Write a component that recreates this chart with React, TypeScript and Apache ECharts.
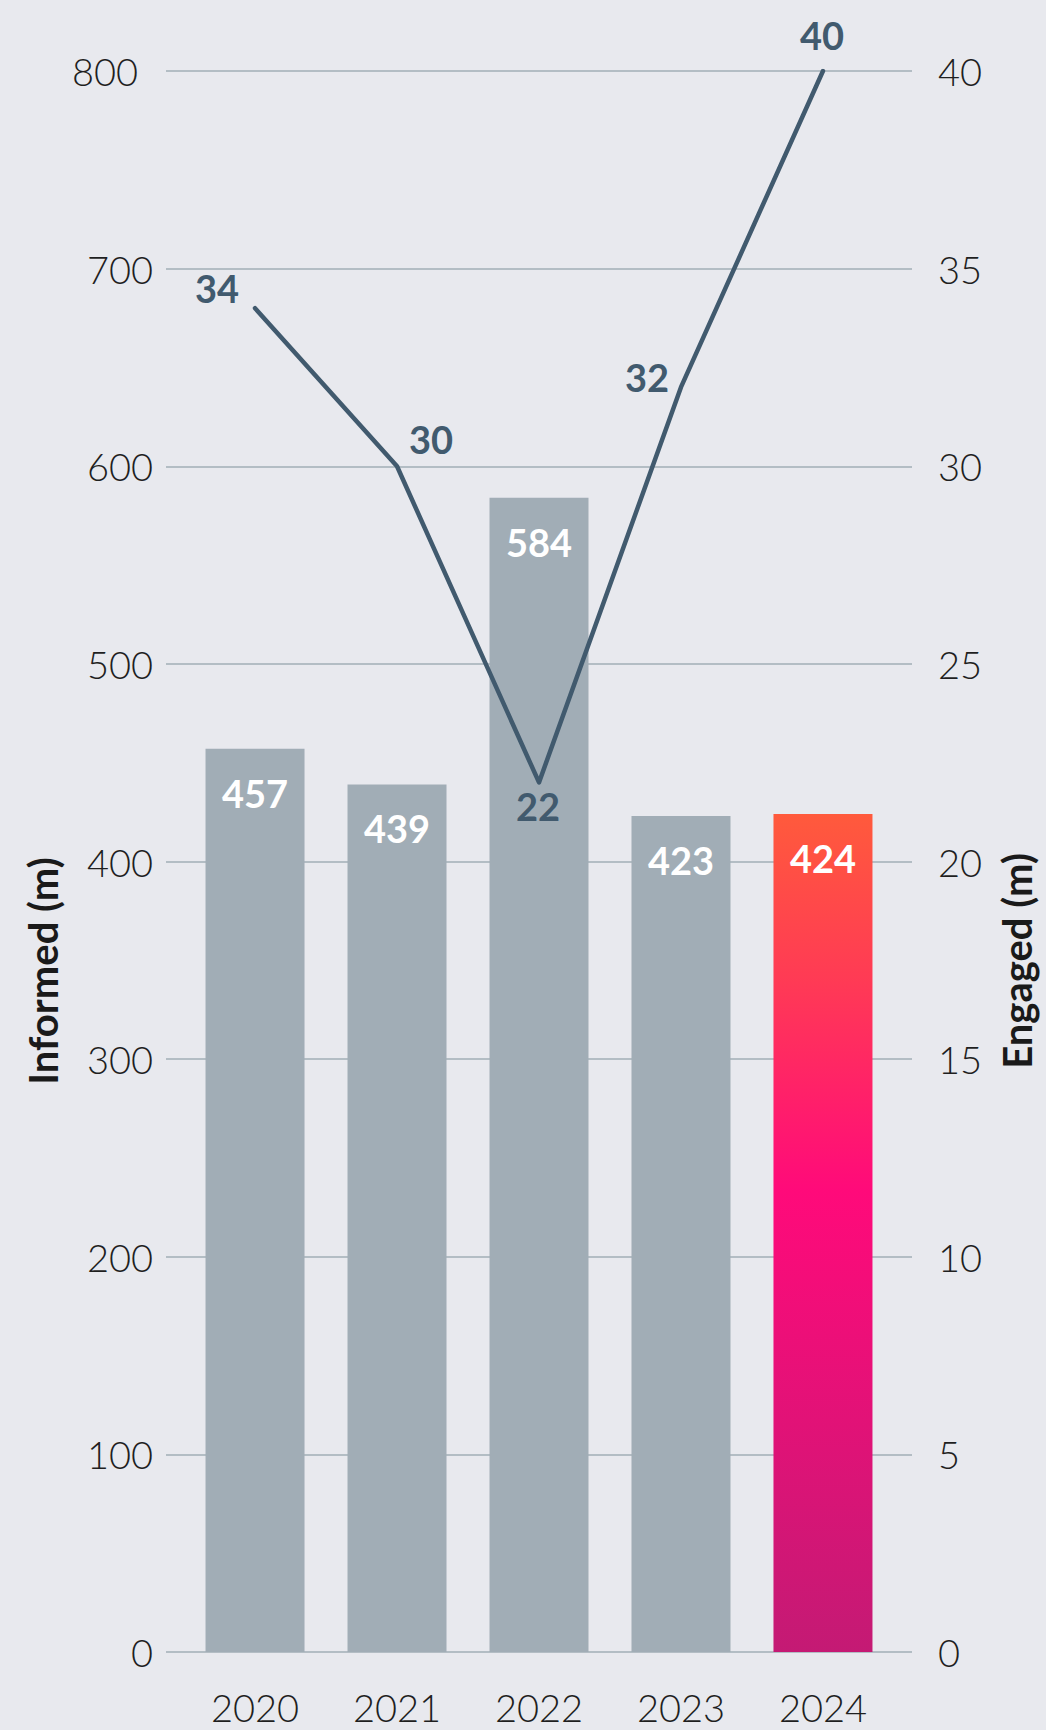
import React, { useEffect, useRef } from "react";
import * as echarts from "echarts";

const years = ["2020", "2021", "2022", "2023", "2024"];
const informed = [457, 439, 584, 423, 424];
const engaged = [34, 30, 22, 32, 40];
const leftTicks = { min: 0, max: 800, interval: 100 };
const rightTicks = { min: 0, max: 40, interval: 5 };

const lineLabelOffsets: [number, number][] = [
  [-38, -20],
  [34, -27],
  [-1, 24],
  [-34, -10],
  [-1, -36],
];

const FONT = "Lato, 'Open Sans', sans-serif";

export default function App() {
  const ref = useRef<HTMLDivElement>(null);
  useEffect(() => {
    document.body.style.margin = "0";
    const chart = echarts.init(ref.current!, null, { renderer: "svg" });
    const gradient = new echarts.graphic.LinearGradient(0, 0, 0, 1, [
      { offset: 0, color: "#ff5a3c" },
      { offset: 0.2, color: "#ff3a55" },
      { offset: 0.45, color: "#ff0a7a" },
      { offset: 1, color: "#c41a74" },
    ]);
    const barData = informed.map((v, i) => ({
      value: [i, v],
      itemStyle: { color: i === informed.length - 1 ? gradient : "#a1adb6" },
    }));
    const lineData = engaged.map((v, i) => ({
      value: [i, v],
      label: { offset: lineLabelOffsets[i] },
    }));
    const tickStyle = {
      fontSize: 38,
      fontWeight: 300,
      color: "#1f1f1f",
      fontFamily: FONT,
    };
    chart.setOption({
      animation: false,
      backgroundColor: "#e8e9ee",
      textStyle: { fontFamily: FONT },
      grid: { left: 166, right: 134, top: 71, bottom: 78, containLabel: false },
      xAxis: {
        type: "value",
        min: -0.627,
        max: 4.627,
        axisLine: { show: false },
        axisTick: { show: false },
        splitLine: { show: false },
        axisLabel: {
          customValues: years.map((_, i) => i),
          formatter: (v: number) => years[Math.round(v)] ?? "",
          ...tickStyle,
          margin: 36,
        },
      },
      yAxis: [
        {
          type: "value",
          ...leftTicks,
          axisLine: { show: false },
          axisTick: { show: false },
          splitLine: { show: true, lineStyle: { color: "#b3bdc4", width: 2 } },
          axisLabel: {
            ...tickStyle,
            margin: 13,
            formatter: (v: number) =>
              v === leftTicks.max ? `{top|${v}}` : String(v),
            rich: {
              top: { ...tickStyle, padding: [0, 15, 0, 0] },
            },
          },
        },
        {
          type: "value",
          ...rightTicks,
          position: "right",
          axisLine: { show: false },
          axisTick: { show: false },
          splitLine: { show: false },
          axisLabel: { ...tickStyle, margin: 26 },
        },
      ],
      graphic: [
        {
          type: "text",
          x: 43,
          y: 971,
          rotation: Math.PI / 2,
          style: {
            text: "Informed (m)",
            fontSize: 40,
            fontWeight: "bold",
            fontFamily: FONT,
            fill: "#1a1a1a",
            align: "center",
            verticalAlign: "middle",
          },
        },
        {
          type: "text",
          x: 1017,
          y: 961,
          rotation: Math.PI / 2,
          style: {
            text: "Engaged (m)",
            fontSize: 40,
            fontWeight: "bold",
            fontFamily: FONT,
            fill: "#1a1a1a",
            align: "center",
            verticalAlign: "middle",
          },
        },
      ],
      series: [
        {
          type: "bar",
          yAxisIndex: 0,
          barWidth: 99,
          data: barData,
          label: {
            show: true,
            position: "insideTop",
            distance: 25,
            color: "#ffffff",
            fontSize: 38,
            fontWeight: "bold",
            fontFamily: FONT,
            formatter: (p: any) => String(p.value[1]),
          },
        },
        {
          type: "line",
          yAxisIndex: 1,
          data: lineData,
          symbol: "circle",
          symbolSize: 1,
          itemStyle: { color: "#415a6e" },
          lineStyle: { color: "#415a6e", width: 4.5, cap: "round", join: "round" },
          z: 5,
          label: {
            show: true,
            position: "inside",
            color: "#415a6e",
            fontSize: 38,
            fontWeight: "bold",
            fontFamily: FONT,
            formatter: (p: any) => String(p.value[1]),
          },
        },
      ],
    });
    return () => chart.dispose();
  }, []);
  return <div ref={ref} style={{ width: 1046, height: 1730 }} />;
}
